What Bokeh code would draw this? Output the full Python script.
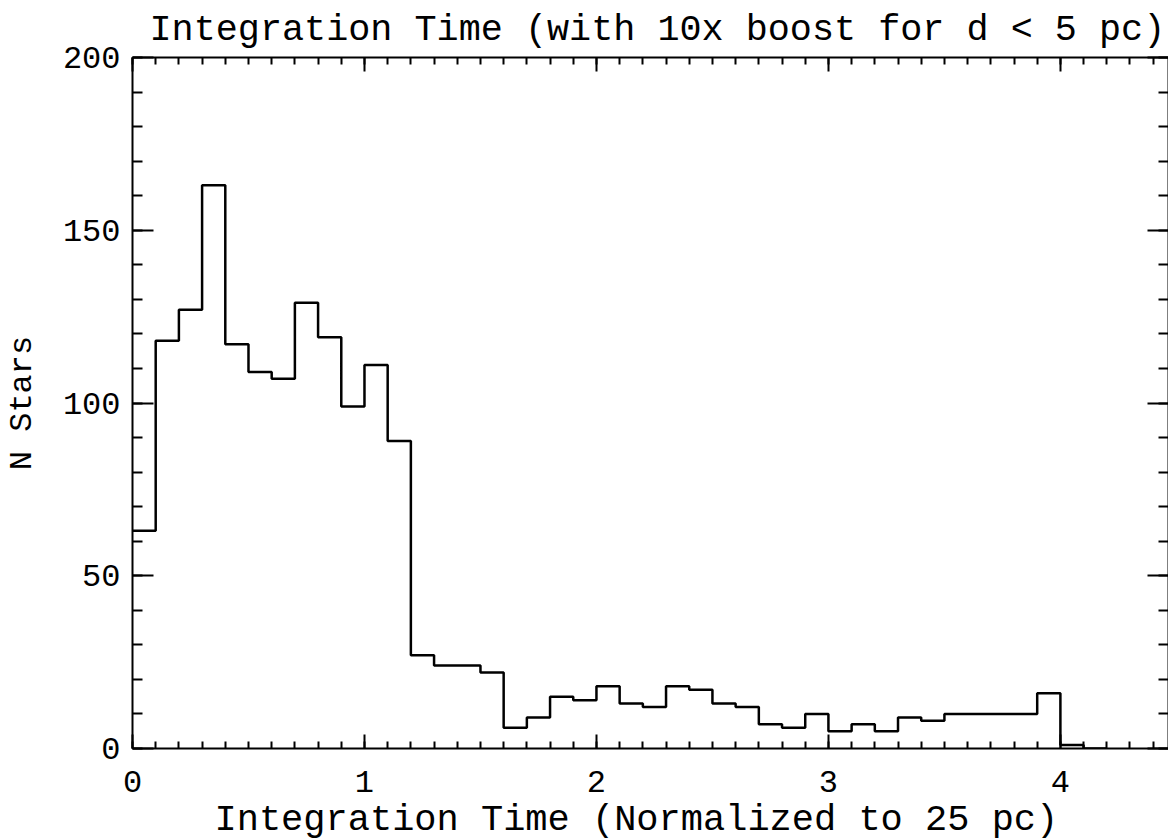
from bokeh.plotting import figure
from bokeh.models import LinearAxis, FixedTicker, Range1d, Title
from bokeh.embed import file_html
from bokeh.resources import INLINE

# ---- data ----
bin_edges = [0.0, 0.1, 0.2, 0.3, 0.4, 0.5, 0.6, 0.7, 0.8, 0.9,
             1.0, 1.1, 1.2, 1.3, 1.4, 1.5, 1.6, 1.7, 1.8, 1.9,
             2.0, 2.1, 2.2, 2.3, 2.4, 2.5, 2.6, 2.7, 2.8, 2.9,
             3.0, 3.1, 3.2, 3.3, 3.4, 3.5, 3.6, 3.7, 3.8, 3.9,
             4.0, 4.1, 4.2]
counts = [63, 118, 127, 163, 117, 109, 107, 129, 119, 99,
          111, 89, 27, 24, 24, 22, 6, 9, 15, 14,
          18, 13, 12, 18, 17, 13, 12, 7, 6, 10,
          5, 7, 5, 9, 8, 10, 10, 10, 10, 16,
          1, 0]
x_major = [0, 1, 2, 3, 4]
x_minor = [i / 10 for i in range(0, 45)]
y_major = [0, 50, 100, 150, 200]
y_minor = list(range(0, 201, 10))

title_text = "Integration Time (with 10x boost for d < 5 pc)"
x_label = "Integration Time (Normalized to 25 pc)"
y_label = "N Stars"

FONT = "Liberation Mono"

p = figure(frame_width=1036, frame_height=691,
           x_range=Range1d(0, 4.466), y_range=Range1d(0, 200),
           output_backend="svg", toolbar_location=None,
           x_axis_location=None, y_axis_location=None,
           min_border_left=129, min_border_right=2,
           min_border_top=56, min_border_bottom=0,
           background_fill_color="white", border_fill_color="white")
p.outline_line_color = None
p.xgrid.visible = False
p.ygrid.visible = False

p.title.text = title_text
p.title.text_font = FONT
p.title.text_font_size = "36.8px"
p.title.text_font_style = "normal"
p.title.align = "left"
p.title.offset = 17
p.title.text_color = "black"
p.title.standoff = 13

def style_axis(ax, ticks, minor, tin, mtin, show_labels, label=None):
    ax.ticker = FixedTicker(ticks=ticks, minor_ticks=minor)
    ax.axis_line_color = "black"
    ax.axis_line_width = 2
    ax.major_tick_line_color = "black"
    ax.major_tick_line_width = 2
    ax.minor_tick_line_color = "black"
    ax.minor_tick_line_width = 2
    ax.major_tick_in = tin
    ax.major_tick_out = 0
    ax.minor_tick_in = mtin
    ax.minor_tick_out = 0
    if show_labels:
        ax.major_label_text_font = FONT
        ax.major_label_text_font_size = "32px"
        ax.major_label_text_color = "black"
    else:
        ax.major_label_text_color = None
        ax.major_label_text_font_size = "0px"
        ax.major_label_standoff = 0
    if label:
        ax.axis_label = label
        ax.axis_label_text_font = FONT
        ax.axis_label_text_font_size = "32px"
        ax.axis_label_text_font_style = "normal"
        ax.axis_label_text_color = "black"

xb = LinearAxis()
style_axis(xb, x_major, x_minor, 14, 7, True)
xb.major_label_standoff = 22
p.add_layout(xb, "below")

xt = LinearAxis()
style_axis(xt, x_major, x_minor, 14, 7, False)
p.add_layout(xt, "above")

yl = LinearAxis()
style_axis(yl, y_major, y_minor, 21, 10, True, y_label)
yl.major_label_standoff = 12
yl.axis_label_standoff = 19
p.add_layout(yl, "left")

yr = LinearAxis()
style_axis(yr, y_major, y_minor, 21, 10, False)
p.add_layout(yr, "right")

# x-axis title, below the tick labels
xtitle = Title(text=x_label, align="left", offset=82, standoff=5,
               text_font=FONT, text_font_size="37px",
               text_font_style="normal", text_color="black")
p.add_layout(xtitle, "below")

step_x = bin_edges[:-1] + [bin_edges[-1]]
step_y = counts + [counts[-1]]
p.step(x=step_x, y=step_y, mode="after", line_color="black", line_width=2.5)

open("out.html", "w").write(file_html(p, INLINE))
